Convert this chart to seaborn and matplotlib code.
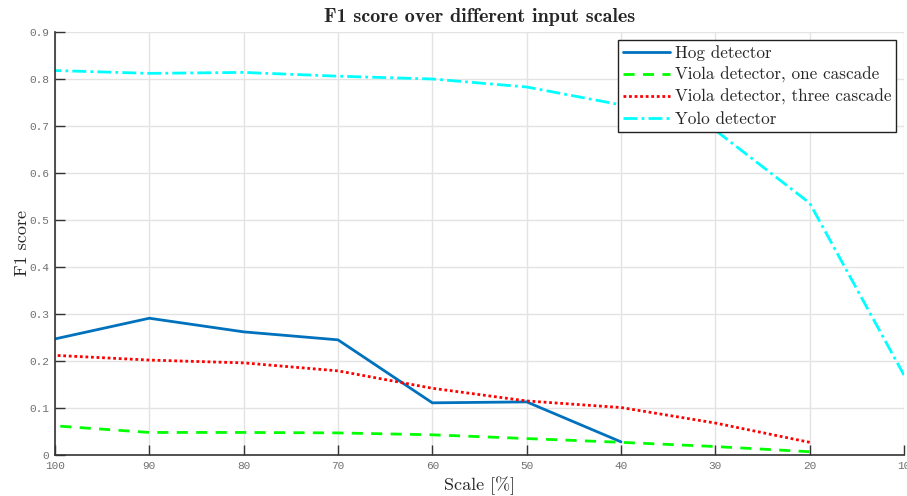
import matplotlib
matplotlib.use("Agg")
import matplotlib.pyplot as plt
import seaborn as sns
import pandas as pd

scales = [100, 90, 80, 70, 60, 50, 40, 30, 20, 10]
hog = [0.247, 0.291, 0.262, 0.245, 0.111, 0.113, 0.028]
viola_one = [0.062, 0.048, 0.048, 0.047, 0.043, 0.035, 0.027, 0.018, 0.007]
viola_three = [0.212, 0.202, 0.196, 0.179, 0.142, 0.115, 0.101, 0.068, 0.027]
yolo = [0.818, 0.812, 0.814, 0.806, 0.800, 0.783, 0.745, 0.691, 0.536, 0.170]
labels = ["Hog detector", "Viola detector, one cascade",
          "Viola detector, three cascade", "Yolo detector"]
yticks = [0, 0.1, 0.2, 0.3, 0.4, 0.5, 0.6, 0.7, 0.8, 0.9]
yticklabels = ["0", "0.1", "0.2", "0.3", "0.4", "0.5", "0.6", "0.7", "0.8", "0.9"]

sns.set_theme(style="whitegrid")
plt.rcParams['font.family'] = ['cmr10', 'DejaVu Serif']
plt.rcParams['axes.formatter.use_mathtext'] = True

fig = plt.figure(figsize=(9.07, 4.96), dpi=100)
ax = fig.add_axes([55/907, 1-455/496, (904-55)/907, (455-32)/496])

series = [hog, viola_one, viola_three, yolo]
colors = ["#0072BD", "#00FF00", "#FF0000", "#00FFFF"]
styles = ["-", (0, (4, 3)), (0, (1, 1)), (0, (5, 1.5, 1, 1.5))]
for lab, vals, c, ls in zip(labels, series, colors, styles):
    df = pd.DataFrame({"Scale": scales[:len(vals)], "F1": vals})
    sns.lineplot(data=df, x="Scale", y="F1", ax=ax, color=c, linestyle=ls,
                 linewidth=2, label=lab)

ax.set_xlim(100, 10)
ax.set_ylim(0, 0.9)
ax.set_xticks(scales)
ax.set_xticklabels([str(s) for s in scales])
ax.set_yticks(yticks)
ax.set_yticklabels(yticklabels)
for t in ax.get_xticklabels() + ax.get_yticklabels():
    t.set_family("Liberation Mono")
    t.set_fontsize(8)
    t.set_color("#707070")
ax.tick_params(axis="both", direction="in", length=7, width=1, color="#333333",
               left=True, bottom=True, pad=4)
ax.grid(True, color="#E3E3E3", linewidth=1)
ax.set_facecolor("white")
for side in ["top", "right"]:
    ax.spines[side].set_visible(False)
for side in ["left", "bottom"]:
    ax.spines[side].set_color("#333333")
    ax.spines[side].set_linewidth(1.2)

ax.set_xlabel("Scale [%]", fontsize=13, labelpad=4)
ax.set_ylabel("F1 score", fontsize=13)
ax.yaxis.set_label_coords(-0.029, 0.5)
ax.set_title("F1 score over different input scales", fontsize=14.5,
             fontweight="bold", family=["cmb10", "DejaVu Serif"], pad=7)

leg = ax.legend(loc="upper right", fontsize=12.3, frameon=True, fancybox=False,
                handlelength=2.7, handletextpad=0.3, borderpad=0.3,
                labelspacing=0.36, borderaxespad=0.45, framealpha=1)
leg.get_frame().set_edgecolor("#222222")
leg.get_frame().set_linewidth(1)

fig.savefig("out.png", dpi=100)
